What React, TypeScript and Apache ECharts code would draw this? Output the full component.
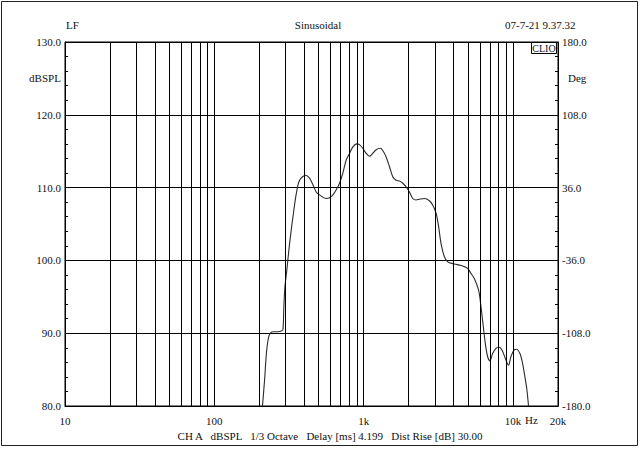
import React, { useEffect, useRef } from "react";
import * as echarts from "echarts";

const freqs = [
  210, 217, 223, 229, 235, 247, 265, 281, 288, 292, 297, 305, 319, 336, 354, 372, 408, 434, 457, 481,
  506, 562, 591, 622, 655, 689, 725, 764, 804, 846, 899, 937, 986, 1039, 1093, 1150, 1212, 1289, 1342,
  1414, 1487, 1565, 1649, 1735, 1826, 1924, 2024, 2130, 2244, 2361, 2549, 2753, 2897, 3051, 3177, 3296,
  3468, 3649, 4046, 4484, 4964, 5231, 5504, 5882, 6104, 6323, 6520, 6755, 7008, 7295, 7687, 8000, 8431,
  8968, 9331, 9683, 10186, 10555, 11121, 11573, 12008, 12387, 12694,
];
const splValues = [
  80.0, 83.6, 87.2, 89.1, 89.9, 90.2, 90.2, 90.3, 90.5, 93.6, 96.4, 98.5, 102.3, 106.0, 109.2, 111.0,
  111.7, 111.3, 110.4, 109.4, 109.0, 108.5, 108.6, 109.0, 109.7, 110.6, 112.0, 113.8, 114.7, 115.6,
  116.0, 115.9, 115.4, 114.7, 114.3, 114.7, 115.2, 115.4, 115.1, 114.2, 112.9, 111.5, 111.0, 110.9,
  110.6, 110.1, 109.4, 108.5, 108.3, 108.4, 108.5, 108.2, 107.6, 106.5, 104.6, 102.3, 100.5, 99.8, 99.5,
  99.3, 98.9, 98.2, 97.5, 95.9, 93.6, 90.9, 88.6, 86.8, 86.2, 87.2, 87.9, 88.1, 87.7, 86.3, 85.6, 86.8,
  87.7, 87.8, 87.2, 85.9, 84.0, 82.2, 80.0,
];
const gridFreqs = [
  20, 30, 40, 50, 60, 70, 80, 90, 100, 200, 300, 400, 500, 600, 700, 800, 900, 1000, 2000, 3000, 4000,
  5000, 6000, 7000, 8000, 9000, 10000,
];
const dbMin = 80;
const dbMax = 130;
const dbStep = 10;
const phaseLabels: Record<number, string> = {
  80: "-180.0",
  90: "-108.0",
  100: "-36.0",
  110: "36.0",
  120: "108.0",
  130: "180.0",
};
const titleLeft = "LF";
const titleCenter = "Sinusoidal";
const titleRight = "07-7-21 9.37.32";
const footer = "CH A   dBSPL   1/3 Octave   Delay [ms] 4.199   Dist Rise [dB] 30.00";

const FONT = "Liberation Serif";

export default function App() {
  const ref = useRef<HTMLDivElement>(null);
  useEffect(() => {
    if (!ref.current) return;
    const chart = echarts.init(ref.current, null, { renderer: "svg" });
    const txt = { fontFamily: FONT, fontSize: 11, fill: "#111" };
    chart.setOption({
      animation: false,
      backgroundColor: "#fff",
      grid: { left: 65, right: 82, top: 42, bottom: 43, show: true, borderColor: "#000", borderWidth: 1 },
      xAxis: {
        type: "log",
        logBase: 10,
        min: 10,
        max: 20000,
        axisLine: { show: true, lineStyle: { color: "#000" } },
        axisTick: { show: false },
        splitLine: { show: false },
        axisLabel: {
          margin: 9,
          color: "#111",
          fontFamily: FONT,
          fontSize: 11,
          showMaxLabel: true,
          formatter: (v: number) => (v >= 1000 ? Math.round(v / 1000) + "k" : String(Math.round(v))),
        },
      },
      yAxis: [
        {
          type: "value",
          min: dbMin,
          max: dbMax,
          interval: dbStep,
          axisLine: { show: true, lineStyle: { color: "#000" } },
          axisTick: { show: true, inside: true, length: 3, lineStyle: { color: "#000" } },
          minorTick: { show: true, splitNumber: 5, length: 3, lineStyle: { color: "#000" } },
          splitLine: { show: true, lineStyle: { color: "#000", width: 1 } },
          axisLabel: {
            margin: 4,
            color: "#111",
            fontFamily: FONT,
            fontSize: 11,
            formatter: (v: number) => v.toFixed(1),
          },
        },
        {
          type: "value",
          position: "right",
          min: dbMin,
          max: dbMax,
          interval: dbStep,
          axisLine: { show: true, lineStyle: { color: "#000" } },
          axisTick: { show: true, inside: true, length: 3, lineStyle: { color: "#000" } },
          minorTick: { show: true, splitNumber: 5, length: 3, lineStyle: { color: "#000" } },
          splitLine: { show: false },
          axisLabel: {
            margin: 4,
            color: "#111",
            fontFamily: FONT,
            fontSize: 11,
            formatter: (v: number) => phaseLabels[Math.round(v)] ?? "",
          },
        },
      ],
      series: [
        {
          type: "line",
          yAxisIndex: 0,
          data: freqs.map((f, i) => [f, splValues[i]]),
          smooth: 0.3,
          showSymbol: false,
          symbol: "none",
          clip: true,
          lineStyle: { color: "#2a2a2a", width: 1.1 },
          markLine: {
            silent: true,
            symbol: ["none", "none"],
            label: { show: false },
            emphasis: { disabled: true },
            lineStyle: { color: "#000", width: 1, type: "solid" },
            data: gridFreqs.map((f) => ({ xAxis: f })),
          },
        },
      ],
      graphic: [
        {
          type: "rect",
          shape: { x: 1.5, y: 1.5, width: 636, height: 444 },
          style: { fill: "none", stroke: "#222", lineWidth: 1 },
        },
        { type: "text", x: 66, y: 25, style: { ...txt, text: titleLeft, textAlign: "left", textVerticalAlign: "middle" } },
        { type: "text", x: 318, y: 25, style: { ...txt, text: titleCenter, textAlign: "center", textVerticalAlign: "middle" } },
        { type: "text", x: 505, y: 25, style: { ...txt, text: titleRight, textAlign: "left", textVerticalAlign: "middle" } },
        { type: "text", x: 45, y: 78, style: { ...txt, text: "dBSPL", textAlign: "center", textVerticalAlign: "middle" } },
        { type: "text", x: 568, y: 78, style: { ...txt, text: "Deg", textAlign: "left", textVerticalAlign: "middle" } },
        { type: "text", x: 525, y: 420, style: { ...txt, text: "Hz", textAlign: "left", textVerticalAlign: "middle" } },
        { type: "text", x: 330, y: 436, style: { ...txt, text: footer, textAlign: "center", textVerticalAlign: "middle" } },
        {
          type: "rect",
          shape: { x: 531.5, y: 42.5, width: 25, height: 11 },
          style: { fill: "#fff", stroke: "#000", lineWidth: 1 },
          z: 10,
        },
        {
          type: "text",
          x: 544,
          y: 48.5,
          z: 11,
          style: { ...txt, fontSize: 10, text: "CLIO", textAlign: "center", textVerticalAlign: "middle" },
        },
      ],
    });
    return () => chart.dispose();
  }, []);
  return <div ref={ref} style={{ width: 640, height: 449, position: "absolute", left: 0, top: 0 }} />;
}
